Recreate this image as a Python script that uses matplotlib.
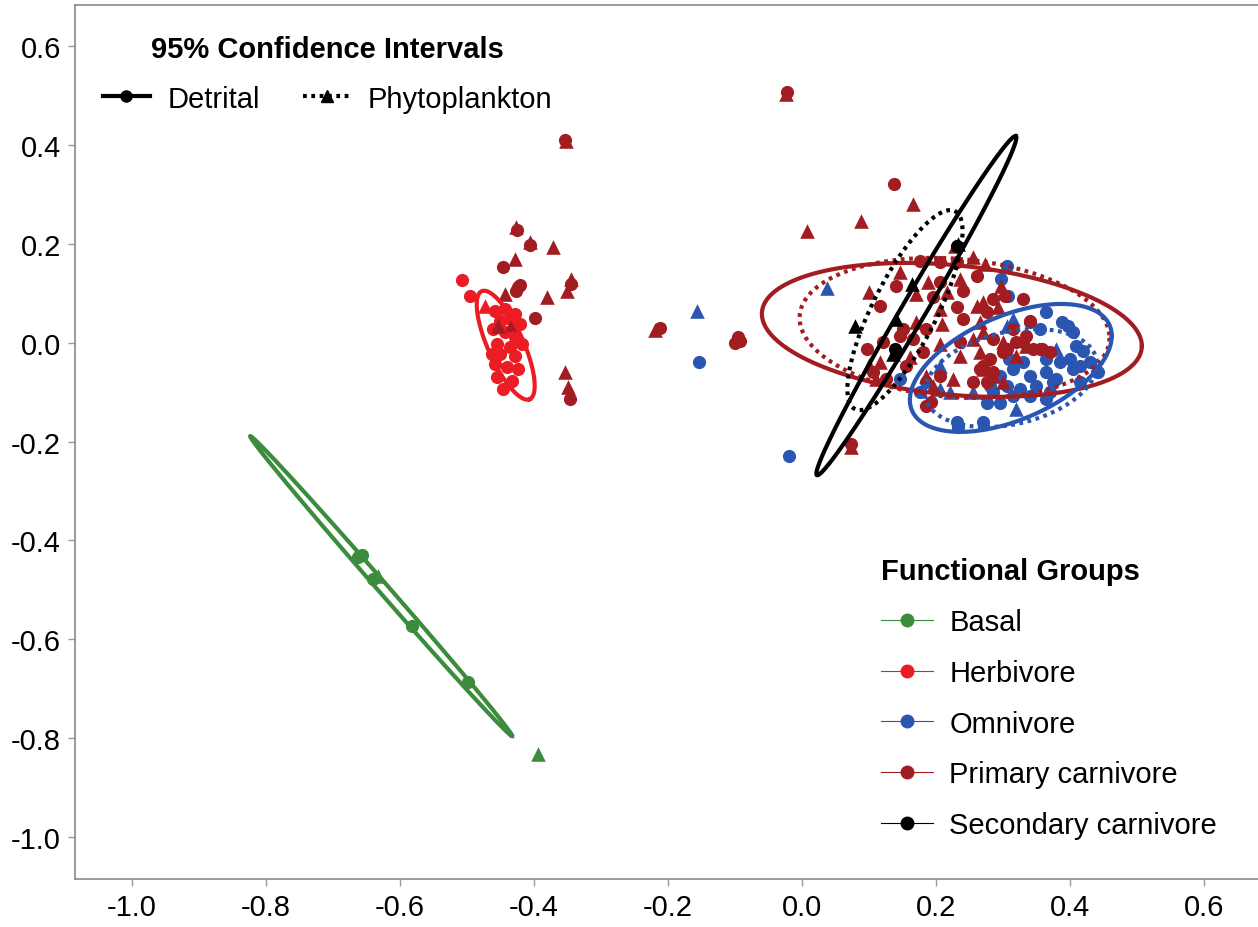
import numpy as np
import matplotlib.pyplot as plt
from matplotlib.lines import Line2D

plt.rcParams['font.family'] = ['Liberation Sans', 'DejaVu Sans']

# functional groups and colours
groups = ["Basal", "Herbivore", "Omnivore", "Primary carnivore", "Secondary carnivore"]
colors = ["#3b8c3c", "#ec1c24", "#2a55b0", "#a11d21", "#000000"]

tick_vals = [-1.0, -0.8, -0.6, -0.4, -0.2, 0.0, 0.2, 0.4, 0.6]
tick_labels = ["-1.0", "-0.8", "-0.6", "-0.4", "-0.2", "0.0", "0.2", "0.4", "0.6"]

# scatter points, circles = detrital, triangles = phytoplankton
basal_circ_x = [-0.663, -0.657, -0.640, -0.582, -0.499]
basal_circ_y = [-0.434, -0.430, -0.478, -0.573, -0.686]
basal_tri_x = [-0.633, -0.394]
basal_tri_y = [-0.472, -0.832]

herb_circ_x = [-0.458, -0.443, -0.428, -0.451, -0.436, -0.421, -0.461, -0.443, -0.428, -0.455,
               -0.436, -0.451, -0.428, -0.458, -0.440, -0.424, -0.455, -0.433, -0.446, -0.463,
               -0.418, -0.508, -0.496]
herb_circ_y = [0.064, 0.068, 0.058, 0.044, 0.048, 0.038, 0.028, 0.022, 0.012, -0.003,
               -0.009, -0.023, -0.027, -0.043, -0.049, -0.053, -0.069, -0.078, -0.094, -0.023,
               -0.003, 0.127, 0.095]
herb_tri_x = [-0.473]
herb_tri_y = [0.074]

omni_circ_x = [-0.153, -0.019, 0.306, 0.298, 0.308, 0.365, 0.388, 0.397, 0.355, 0.410,
               0.420, 0.415, 0.400, 0.355, 0.365, 0.385, 0.310, 0.330, 0.315, 0.340,
               0.365, 0.380, 0.415, 0.440, 0.296, 0.281, 0.306, 0.325, 0.350, 0.370,
               0.286, 0.315, 0.340, 0.365, 0.276, 0.296, 0.271, 0.186, 0.176, 0.231,
               0.146, 0.340, 0.405, 0.430, 0.405, 0.375, 0.442, 0.233]
omni_circ_y = [-0.038, -0.230, 0.156, 0.129, 0.095, 0.062, 0.041, 0.034, 0.028, -0.006,
               -0.016, -0.047, -0.033, -0.013, -0.033, -0.040, -0.033, -0.040, -0.053, -0.067,
               -0.060, -0.073, -0.080, -0.060, -0.067, -0.087, -0.087, -0.094, -0.087, -0.100,
               -0.100, -0.107, -0.107, -0.114, -0.121, -0.121, -0.161, -0.080, -0.100, -0.161,
               -0.073, 0.041, 0.021, -0.040, -0.053, -0.080, -0.060, -0.170]
omni_tri_x = [-0.156, 0.037, 0.315, 0.380, 0.320, 0.206, 0.221, 0.256, 0.206, 0.306]
omni_tri_y = [0.064, 0.111, 0.048, -0.013, -0.134, -0.094, -0.100, -0.100, -0.047, 0.034]

prim_circ_x = [-0.425, -0.406, -0.446, -0.423, -0.421, -0.426, -0.399, -0.346, -0.344,
               0.231, 0.141, 0.206, 0.261, 0.116, 0.196, 0.240, 0.231, 0.151, 0.186,
               0.240, 0.146, 0.166, 0.121, 0.097, 0.181, 0.236, 0.106, 0.156, 0.271,
               0.206, 0.126, 0.186, 0.303, 0.330, 0.286, 0.276, 0.315, 0.340, 0.286,
               0.320, 0.358, 0.281, 0.300, 0.285, 0.276, 0.256, 0.266, 0.306, 0.330,
               0.345, 0.335, 0.370, 0.138, -0.212, -0.100, -0.092, -0.095, -0.022, -0.354,
               0.074, 0.193, 0.206, 0.176]
prim_circ_y = [0.229, 0.198, 0.153, 0.112, 0.117, 0.105, 0.051, -0.114, 0.119,
               0.163, 0.115, 0.123, 0.136, 0.075, 0.092, 0.105, 0.072, 0.028, 0.028,
               0.048, 0.014, 0.007, 0.001, -0.013, -0.019, 0.001, -0.060, -0.047, -0.047,
               -0.067, -0.073, -0.128, 0.095, 0.088, 0.088, 0.062, 0.028, 0.045, 0.007,
               0.001, -0.013, -0.033, -0.019, -0.060, -0.080, -0.080, -0.053, -0.013, 0.001,
               -0.013, 0.014, -0.019, 0.321, 0.030, 0.000, 0.004, 0.012, 0.508, 0.411,
               -0.205, -0.120, 0.163, 0.165]
prim_tri_x = [-0.426, -0.406, -0.371, -0.428, -0.443, -0.381, -0.344, -0.351, -0.453,
              -0.354, -0.349, -0.433,
              0.228, 0.255, 0.146, 0.188, 0.236, 0.101, 0.171, 0.216, 0.206, 0.261,
              0.171, 0.210, 0.266, 0.116, 0.161, 0.206, 0.255, 0.101, 0.236, 0.186,
              0.196, 0.111, 0.273, 0.298, 0.271, 0.293, 0.271, 0.300, 0.335, 0.271,
              0.300, 0.286, 0.226, 0.320, 0.074, 0.008, 0.088, 0.166, -0.024, -0.352,
              -0.219, -0.097, 0.266]
prim_tri_y = [0.234, 0.203, 0.193, 0.169, 0.099, 0.092, 0.129, 0.105, 0.034,
              -0.060, -0.090, 0.038,
              0.196, 0.173, 0.143, 0.123, 0.129, 0.103, 0.099, 0.103, 0.068, 0.075,
              0.042, 0.038, 0.042, -0.039, -0.029, -0.003, 0.007, -0.046, -0.026, -0.067,
              -0.087, -0.073, 0.159, 0.115, 0.082, 0.072, 0.021, 0.001, -0.006, -0.053,
              -0.080, -0.067, -0.073, -0.026, -0.212, 0.227, 0.246, 0.281, 0.503, 0.408,
              0.026, 0.0075, -0.019]

sec_circ_x = [0.139, 0.231]
sec_circ_y = [-0.013, 0.196]
sec_tri_x = [0.079, 0.141, 0.164, 0.136, 0.233]
sec_tri_y = [0.034, 0.048, 0.119, -0.022, 0.200]

circ_x = [basal_circ_x, herb_circ_x, omni_circ_x, prim_circ_x, sec_circ_x]
circ_y = [basal_circ_y, herb_circ_y, omni_circ_y, prim_circ_y, sec_circ_y]
tri_x = [basal_tri_x, herb_tri_x, omni_tri_x, prim_tri_x, sec_tri_x]
tri_y = [basal_tri_y, herb_tri_y, omni_tri_y, prim_tri_y, sec_tri_y]

# 95% confidence ellipses: group index, solid (detrital) / dotted (phytoplankton),
# centre and two conjugate half-axis vectors
ell_group = [0, 1, 3, 3, 2, 2, 4, 4]
ell_dotted = [False, False, False, True, False, True, False, True]
ell_cx = [-0.628, -0.442, 0.224, 0.228, 0.312, 0.312, 0.171, 0.154]
ell_cy = [-0.4925, -0.005, 0.026, 0.030, -0.051, -0.0715, 0.075, 0.066]
ell_ux = [0.1955, 0.0358, 0.2836, 0.2313, 0.1507, 0.1284, 0.1485, 0.0746]
ell_uy = [-0.3036, -0.1093, -0.0324, -0.0202, 0.0648, 0.0283, 0.3431, 0.2004]
ell_vx = [0.0056, 0.0243, 0.0, 0.0, 0.0, 0.0, 0.0154, 0.0427]
ell_vy = [0.0067, 0.0146, -0.1316, -0.1403, -0.1121, -0.0951, -0.0123, -0.0292]

fig = plt.figure(figsize=(12.58, 9.28), dpi=100)
ax = fig.add_axes([0.0596, 0.0517, 0.9404, 0.9418])

for i in range(len(groups)):
    ax.scatter(circ_x[i], circ_y[i], s=90, marker="o", color=colors[i], linewidths=0, zorder=2)
    ax.scatter(tri_x[i], tri_y[i], s=110, marker="^", color=colors[i], linewidths=0, zorder=2)

t = np.linspace(0, 2 * np.pi, 300)
for g, d, cx, cy, ux, uy, vx, vy in zip(ell_group, ell_dotted, ell_cx, ell_cy, ell_ux, ell_uy, ell_vx, ell_vy):
    ex = cx + ux * np.cos(t) + vx * np.sin(t)
    ey = cy + uy * np.cos(t) + vy * np.sin(t)
    if d:
        ax.plot(ex, ey, color=colors[g], lw=3, linestyle=(0, (0.9, 1.1)), zorder=3)
    else:
        ax.plot(ex, ey, color=colors[g], lw=3, zorder=3)

ax.set_xlim(-1.085, 0.681)
ax.set_ylim(-1.0856, 0.6836)
ax.set_xticks(tick_vals)
ax.set_yticks(tick_vals)
ax.set_xticklabels(tick_labels)
ax.set_yticklabels(tick_labels)
ax.tick_params(labelsize=21, length=5, width=1, color="#999999", pad=5)
for side in ["left", "bottom", "top"]:
    ax.spines[side].set_color("#888888")
    ax.spines[side].set_linewidth(1.2)
ax.spines["right"].set_visible(False)

ci_handles = [Line2D([], [], color="black", lw=3, marker="o", markersize=8),
              Line2D([], [], color="black", lw=3, linestyle=(0, (0.9, 1.1)), marker="^", markersize=9)]
leg1 = ax.legend(ci_handles, ["Detrital", "Phytoplankton"], title="95% Confidence Intervals",
                 title_fontproperties={"weight": "bold", "size": 21}, fontsize=21, ncol=2,
                 loc="upper left", bbox_to_anchor=(0.0237, 0.966), frameon=False,
                 handlelength=1.6, handletextpad=0.6, columnspacing=1.5, borderpad=0,
                 borderaxespad=0, labelspacing=0.75)
ax.add_artist(leg1)

fg_handles = [Line2D([], [], color=c, lw=0.8, marker="o", markersize=9) for c in colors]
ax.legend(fg_handles, groups, title="Functional Groups", title_fontproperties={"weight": "bold", "size": 21},
          fontsize=21, loc="upper left", bbox_to_anchor=(0.681, 0.368), frameon=False,
          handlelength=1.8, handletextpad=0.55, labelspacing=0.78, borderpad=0, borderaxespad=0,
          alignment="left")

fig.savefig("out.png", dpi=100)
